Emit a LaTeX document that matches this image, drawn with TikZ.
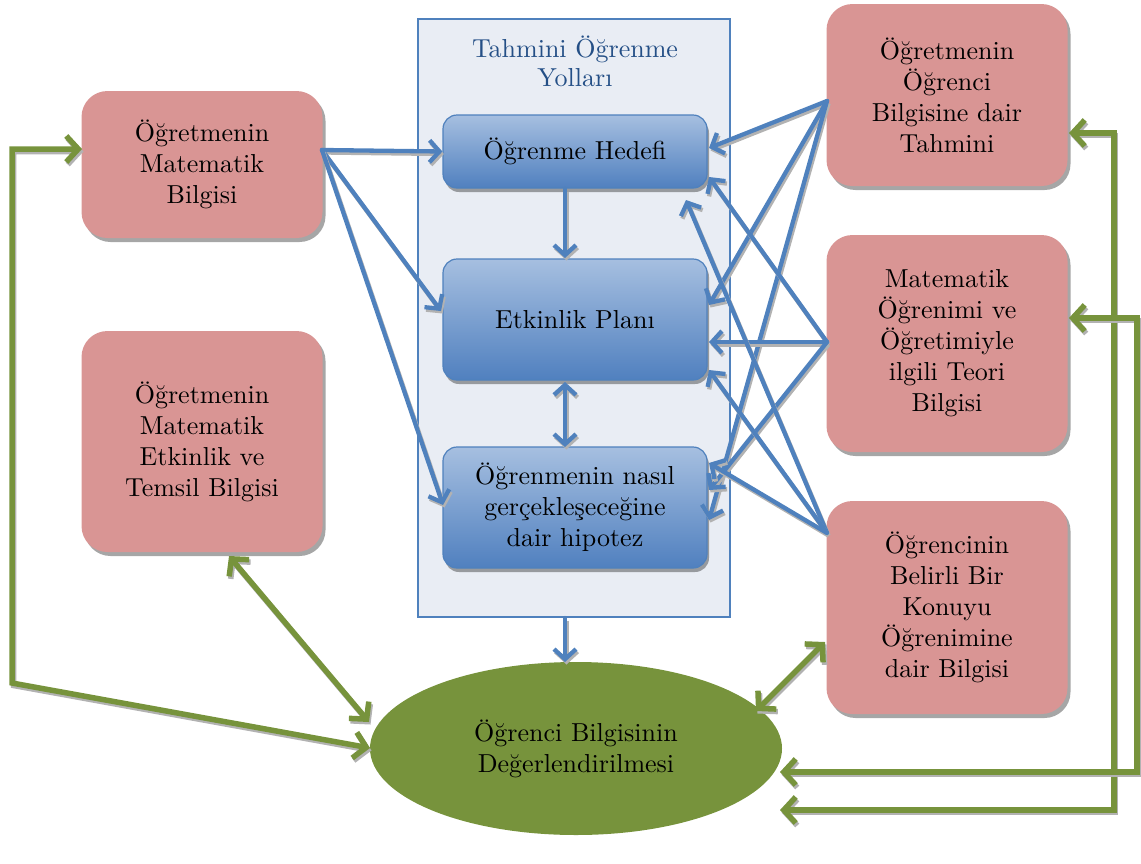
\documentclass[tikz,border=0pt]{standalone}
\usepackage{fontspec}
\setmainfont{lmroman10-regular}[Extension=.otf]
\usetikzlibrary{shapes.geometric,arrows.meta,shadows,calc}
\definecolor{pinkc}{HTML}{D99594}
\definecolor{blueline}{HTML}{4F81BD}
\definecolor{bluetop}{HTML}{A6BFE0}
\definecolor{bluebot}{HTML}{5080BF}
\definecolor{greenc}{HTML}{77933C}
\definecolor{contfill}{HTML}{E9EDF4}
\definecolor{titlec}{HTML}{244F86}
\begin{document}
\begin{tikzpicture}[x=1pt,y=-1pt,
  txt/.style={font=\fontsize{26}{31}\selectfont, align=center, text=black},
  pinkbox/.style={txt, rectangle, rounded corners=26pt, fill=pinkc, minimum width=241pt, inner sep=0pt,
    drop shadow={shadow xshift=3pt,shadow yshift=-4pt,fill=black,opacity=0.35}},
  bluebox/.style={txt, rectangle, rounded corners=14pt, draw=blueline, line width=1.2pt, top color=bluetop, bottom color=bluebot,
    minimum width=264pt, inner sep=0pt,
    drop shadow={shadow xshift=2pt,shadow yshift=-4pt,fill=black,opacity=0.35}},
  barrow/.style={draw=blueline, line width=4.3pt, line cap=round,
    -{Straight Barb[length=10pt,width=22pt]},
    preaction={draw=black!30, line width=4.3pt, transform canvas={xshift=1.5pt,yshift=-2.5pt}}},
  bdarrow/.style={barrow, {Straight Barb[length=10pt,width=22pt]}-{Straight Barb[length=10pt,width=22pt]}},
  garrow/.style={draw=greenc, line width=5.5pt, line join=miter,
    -{Straight Barb[length=12pt,width=26pt]},
    preaction={draw=black!30, line width=5.5pt, transform canvas={xshift=1.5pt,yshift=-2.5pt}}},
  gdarrow/.style={garrow, {Straight Barb[length=12pt,width=26pt]}-{Straight Barb[length=12pt,width=26pt]}}
]
\useasboundingbox (0,0) rectangle (1141,863);

% container
\node[draw=blueline, line width=1.2pt, fill=contfill, minimum width=312pt, minimum height=598pt, inner sep=0pt] (C) at (574,318) {};
\node[font=\fontsize{26}{29}\selectfont, align=center, text=titlec] (T) at (575,61.5) {Tahmini Öğrenme\\Yolları};

% pink boxes
\node[pinkbox, minimum height=147pt] (M1) at (202,164.5) {Öğretmenin\\Matematik\\Bilgisi};
\node[pinkbox, minimum height=221pt] (M2) at (202,441.5) {Öğretmenin\\Matematik\\Etkinlik ve\\Temsil Bilgisi};
\node[pinkbox, minimum height=182pt] (R1) at (947,95) {Öğretmenin\\Öğrenci\\Bilgisine dair\\Tahmini};
\node[pinkbox, minimum height=217pt] (R2) at (947,343.5) {Matematik\\Öğrenimi ve\\Öğretimiyle\\ilgili Teori\\Bilgisi};
\node[pinkbox, minimum height=213pt] (R3) at (947,607.5) {Öğrencinin\\Belirli Bir\\Konuyu\\Öğrenimine\\dair Bilgisi};

% blue boxes
\node[bluebox, minimum height=73pt] (B1) at (575,151.5) {Öğrenme Hedefi};
\node[bluebox, minimum height=121pt] (B2) at (575,319.5) {Etkinlik Planı};
\node[bluebox, minimum height=121pt] (B3) at (575,507.5) {Öğrenmenin nasıl\\gerçekleşeceğine\\dair hipotez};

% ellipse
\node[ellipse, fill=greenc, minimum width=412pt, minimum height=173pt, inner sep=0pt, txt] (E) at (576,748.5) {Öğrenci Bilgisinin\\Değerlendirilmesi};

% named coordinates
\coordinate (m1s) at (322,150);
\coordinate (b2w) at (441,311);
\coordinate (b3w) at (443,505);
\coordinate (r1s) at (827,101);
\coordinate (r2s) at (827,342);
\coordinate (r3s) at (827,533);
\coordinate (b1e1) at (709,148);
\coordinate (b1e2) at (709,177);
\coordinate (b1e3) at (686,200);
\coordinate (b2e1) at (709,305);
\coordinate (b2e2) at (709,342);
\coordinate (b2e3) at (709,370);
\coordinate (b3e1) at (709,463);
\coordinate (b3e2) at (709,490);
\coordinate (b3e3) at (709,520);
\coordinate (v1a) at (565,189);
\coordinate (v1b) at (565,258);
\coordinate (v2a) at (565,382);
\coordinate (v2b) at (565,447);
\coordinate (v3a) at (565,618);
\coordinate (v3b) at (565,662);

% blue arrows
\draw[barrow] (m1s) -- (B1.west);
\draw[barrow] (m1s) -- (b2w);
\draw[barrow] (m1s) -- (b3w);
\draw[barrow] (r1s) -- (b1e1);
\draw[barrow] (r1s) -- (b2e1);
\draw[barrow] (r1s) -- (b3e3);
\draw[barrow] (r2s) -- (b1e2);
\draw[barrow] (r2s) -- (b2e2);
\draw[barrow] (r2s) -- (b3e2);
\draw[barrow] (r3s) -- (b1e3);
\draw[barrow] (r3s) -- (b2e3);
\draw[barrow] (r3s) -- (b3e1);
\draw[barrow] (v1a) -- (v1b);
\draw[bdarrow] (v2a) -- (v2b);
\draw[barrow] (v3a) -- (v3b);

% green arrows
\coordinate (gl1) at (12,683);
\coordinate (gl2) at (12,149);
\coordinate (m1w) at (82,149);
\coordinate (el1) at (370,748);
\coordinate (m2b) at (229,556);
\coordinate (el2) at (369,722);
\coordinate (r3w) at (825,642);
\coordinate (el3) at (756,711);
\coordinate (r1e) at (1069,133);
\coordinate (gr1) at (1114,133);
\coordinate (gr2) at (1114,810);
\coordinate (el4) at (780,810);
\coordinate (r2e) at (1069,318);
\coordinate (gr3) at (1137,318);
\coordinate (gr4) at (1137,772);
\coordinate (el5) at (780,772);

\draw[gdarrow] (el1) -- (gl1) -- (gl2) -- (m1w);
\draw[gdarrow] (m2b) -- (el2);
\draw[gdarrow] (r3w) -- (el3);
\draw[gdarrow] (r1e) -- (gr1) -- (gr2) -- (el4);
\draw[gdarrow] (r2e) -- (gr3) -- (gr4) -- (el5);
\end{tikzpicture}
\end{document}
